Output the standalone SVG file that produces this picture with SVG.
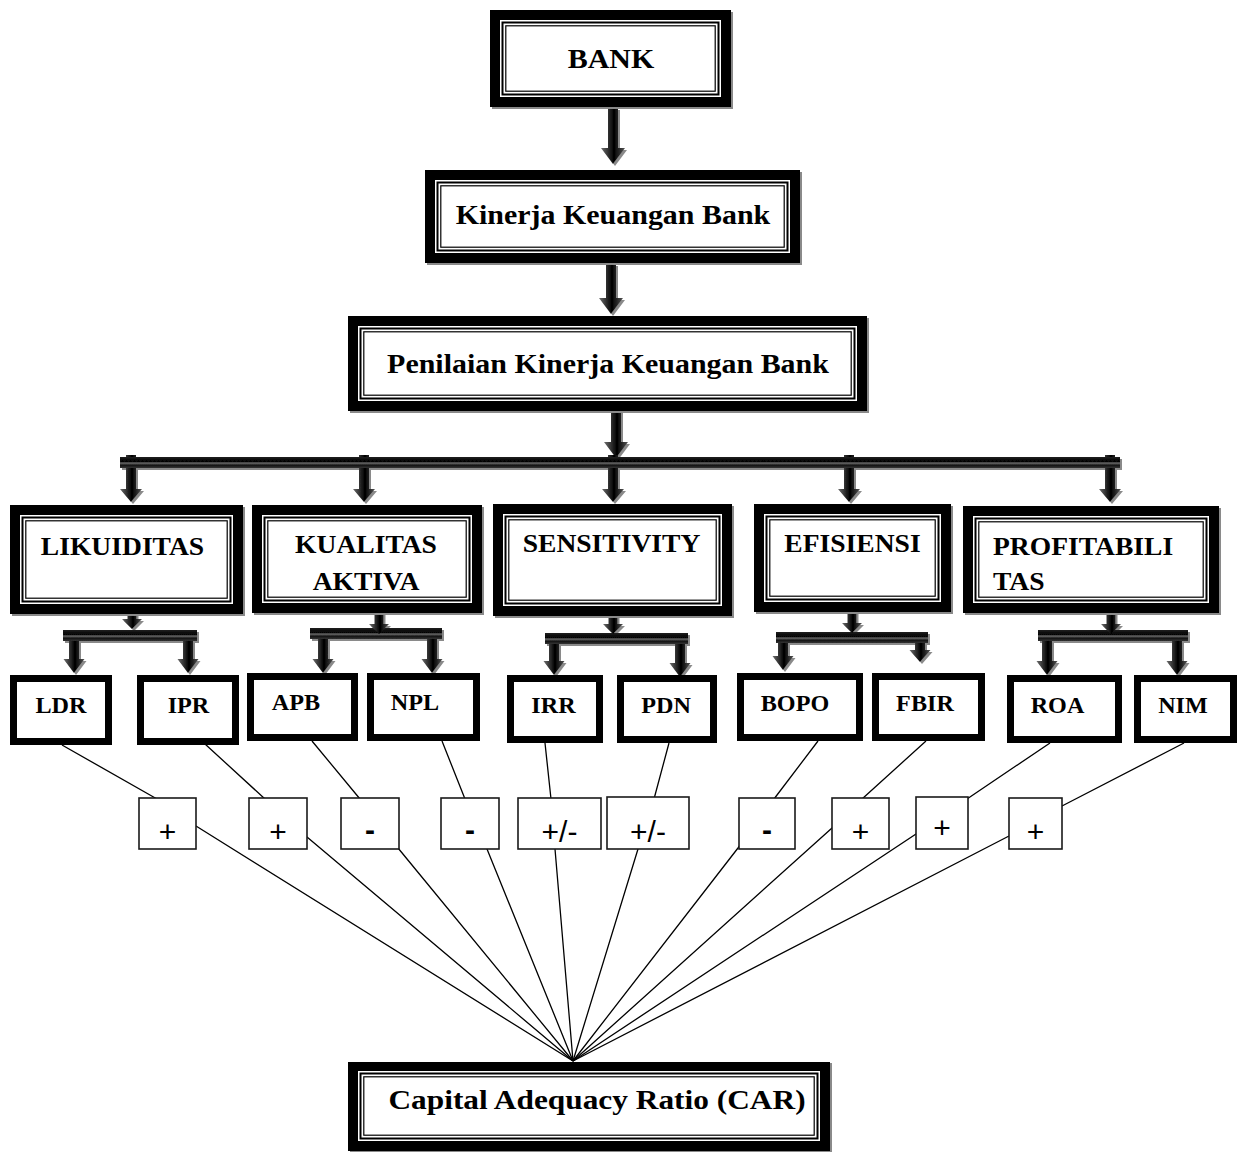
<svg xmlns="http://www.w3.org/2000/svg" width="1243" height="1152" viewBox="0 0 1243 1152">
<defs>
<linearGradient id="ag" x1="0" y1="0" x2="1" y2="0">
<stop offset="0" stop-color="#707070"/><stop offset="0.4" stop-color="#1c1c1c"/><stop offset="0.55" stop-color="#000"/><stop offset="1" stop-color="#555"/>
</linearGradient>
<linearGradient id="bg" x1="0" y1="0" x2="0" y2="1">
<stop offset="0" stop-color="#222"/><stop offset="0.4" stop-color="#000"/><stop offset="0.55" stop-color="#6a6a6a"/><stop offset="0.75" stop-color="#111"/><stop offset="1" stop-color="#333"/>
</linearGradient>
<filter id="sh" x="-5%" y="-5%" width="115%" height="130%">
<feDropShadow dx="2" dy="2" stdDeviation="0.4" flood-color="#8a8a8a" flood-opacity="1"/>
</filter>
</defs>
<style>
.frame{fill:#fff;stroke:#000;stroke-width:10}
.in1{fill:none;stroke:#000;stroke-width:2}
.in2{fill:none;stroke:#000;stroke-width:1.2}
.small{fill:#fff;stroke:#000;stroke-width:7}
.sign{fill:#fff;stroke:#1a1a1a;stroke-width:1.6}
.t{font-family:"Liberation Serif","Times New Roman",serif;font-weight:bold;fill:#000}
.big{font-size:28px;text-anchor:middle}
.cat{font-size:26px}
.mid{text-anchor:middle}
.sm{font-size:22.5px;text-anchor:middle}
.s{font-family:"Liberation Sans",Arial,sans-serif;fill:#000;font-size:30px;text-anchor:middle}
.link{stroke:#000;stroke-width:1.3;fill:none}
.arrow{fill:url(#ag)}
.bar{fill:url(#bg)}
</style>
<rect width="1243" height="1152" fill="#fff"/>

<g id="connectors">
  <g filter="url(#sh)">
    <path class="arrow" d="M608,108 H618 V148 H625 L613,164 L601,148 H608 Z"/>
    <path class="arrow" d="M606,264 H616 V298 H623 L611,314 L599,298 H606 Z"/>
    <path class="arrow" d="M611,411 H621 V442 H628 L616,458 L604,442 H611 Z"/>
    <path class="arrow" d="M126,455 H136 V489 H142 L131,502 L120,489 H126 Z"/>
    <path class="arrow" d="M359,455 H369 V489 H375 L364,502 L353,489 H359 Z"/>
    <path class="arrow" d="M608,455 H618 V489 H624 L613,502 L602,489 H608 Z"/>
    <path class="arrow" d="M844,455 H854 V489 H860 L849,502 L838,489 H844 Z"/>
    <path class="arrow" d="M1105,455 H1115 V489 H1121 L1110,502 L1099,489 H1105 Z"/>
    <rect class="bar" x="120" y="457" width="1000" height="11"/>

    <path class="arrow" d="M69,633 H79 V659 H84.5 L74,673 L63.5,659 H69 Z"/>
    <path class="arrow" d="M183,633 H193 V659 H198.5 L188,673 L177.5,659 H183 Z"/>
    <path class="arrow" d="M318,631 H328 V659 H333.5 L323,673 L312.5,659 H318 Z"/>
    <path class="arrow" d="M427,631 H437 V659 H442.5 L432,673 L421.5,659 H427 Z"/>
    <path class="arrow" d="M549,636 H559 V661 H564.5 L554,675 L543.5,661 H549 Z"/>
    <path class="arrow" d="M675,636 H685 V663 H690.5 L680,677 L669.5,663 H675 Z"/>
    <path class="arrow" d="M778,635 H788 V656 H793.5 L783,670 L772.5,656 H778 Z"/>
    <path class="arrow" d="M915,635 H925 V650 H930.5 L920,662 L909.5,650 H915 Z"/>
    <path class="arrow" d="M1042,633 H1052 V661 H1057.5 L1047,675 L1036.5,661 H1042 Z"/>
    <path class="arrow" d="M1172,633 H1182 V661 H1187.5 L1177,675 L1166.5,661 H1172 Z"/>

    <rect class="bar" x="63" y="630" width="134" height="11"/>
    <rect class="bar" x="310" y="628" width="132" height="11"/>
    <rect class="bar" x="545" y="633" width="143" height="11"/>
    <rect class="bar" x="776" y="632" width="152" height="11"/>
    <rect class="bar" x="1038" y="630" width="150" height="11"/>

    <path class="arrow" d="M127.5,612 H136.5 V619 H142 L132,629 L122,619 H127.5 Z"/>
    <path class="arrow" d="M374.5,612 H383.5 V624 H389 L379,634 L369,624 H374.5 Z"/>
    <path class="arrow" d="M608.5,614 H617.5 V624 H623 L613,634 L603,624 H608.5 Z"/>
    <path class="arrow" d="M847.5,610 H856.5 V623 H862 L852,633 L842,623 H847.5 Z"/>
    <path class="arrow" d="M1106.5,611 H1115.5 V624 H1121 L1111,634 L1101,624 H1106.5 Z"/>
  </g>

  <polyline class="link" points="62,745 157,799 196,826 573,1061"/>
  <polyline class="link" points="205,744 265,799 307,837 573,1061"/>
  <polyline class="link" points="312,741 360,799 398,848 573,1061"/>
  <polyline class="link" points="442,741 465,799 487,849 573,1061"/>
  <polyline class="link" points="545,743 551,799 555,849 573,1061"/>
  <polyline class="link" points="669,743 654,799 638,849 573,1061"/>
  <polyline class="link" points="818,741 774,799 738,848 573,1061"/>
  <polyline class="link" points="926,741 862,799 832,828 573,1061"/>
  <polyline class="link" points="1050,743 967,799 916,834 573,1061"/>
  <polyline class="link" points="1184,743 1062,806 1009,836 573,1061"/>
</g>

<g id="bank" filter="url(#sh)">
  <rect class="frame" x="495" y="15" width="231" height="87"/>
  <rect class="in1" x="502.5" y="22.5" width="216" height="72"/>
  <rect class="in2" x="505.8" y="25.8" width="209.4" height="65.4"/>
</g>
<text class="t big" transform="translate(611,68) scale(1.07,1)">BANK</text>

<g id="kinerja" filter="url(#sh)">
  <rect class="frame" x="430" y="175" width="365" height="83"/>
  <rect class="in1" x="437.5" y="182.5" width="350" height="68"/>
  <rect class="in2" x="440.8" y="185.8" width="343.4" height="61.4"/>
</g>
<text class="t big" transform="translate(613,224) scale(1.07,1)">Kinerja Keuangan Bank</text>

<g id="penilaian" filter="url(#sh)">
  <rect class="frame" x="353" y="321" width="509" height="85"/>
  <rect class="in1" x="360.5" y="328.5" width="494" height="70"/>
  <rect class="in2" x="363.8" y="331.8" width="487.4" height="63.4"/>
</g>
<text class="t big" transform="translate(608,373) scale(1.07,1)">Penilaian Kinerja Keuangan Bank</text>

<g id="likuiditas" filter="url(#sh)">
  <rect class="frame" x="15" y="510" width="223" height="99"/>
  <rect class="in1" x="22.5" y="517.5" width="208" height="84"/>
  <rect class="in2" x="25.8" y="520.8" width="201.4" height="77.4"/>
</g>
<text class="t cat mid" transform="translate(122.5,555) scale(1.06,1)">LIKUIDITAS</text>

<g id="kualitas" filter="url(#sh)">
  <rect class="frame" x="257" y="510" width="220" height="98"/>
  <rect class="in1" x="264.5" y="517.5" width="205" height="83"/>
  <rect class="in2" x="267.8" y="520.8" width="198.4" height="76.4"/>
</g>
<text class="t cat mid" transform="translate(366,553) scale(1.06,1)">KUALITAS</text>
<text class="t cat mid" transform="translate(366,590) scale(1.06,1)">AKTIVA</text>

<g id="sensitivity" filter="url(#sh)">
  <rect class="frame" x="498" y="509" width="229" height="102"/>
  <rect class="in1" x="505.5" y="516.5" width="214" height="87"/>
  <rect class="in2" x="508.8" y="519.8" width="207.4" height="80.4"/>
</g>
<text class="t cat mid" transform="translate(611.5,552) scale(1.06,1)">SENSITIVITY</text>

<g id="efisiensi" filter="url(#sh)">
  <rect class="frame" x="759" y="509" width="187" height="98"/>
  <rect class="in1" x="766.5" y="516.5" width="172" height="83"/>
  <rect class="in2" x="769.8" y="519.8" width="165.4" height="76.4"/>
</g>
<text class="t cat mid" transform="translate(852.5,552) scale(1.06,1)">EFISIENSI</text>

<g id="profitabilitas" filter="url(#sh)">
  <rect class="frame" x="968" y="511" width="246" height="97"/>
  <rect class="in1" x="975.5" y="518.5" width="231" height="82"/>
  <rect class="in2" x="978.8" y="521.8" width="224.4" height="75.4"/>
</g>
<text class="t cat" transform="translate(993,555) scale(1.06,1)">PROFITABILI</text>
<text class="t cat" transform="translate(993,590) scale(1.06,1)">TAS</text>

<g id="ldr"><rect class="small" x="13.5" y="678.5" width="95" height="63"/><text class="t sm" transform="translate(61,713) scale(1.075,1)">LDR</text></g>
<g id="ipr"><rect class="small" x="140.5" y="678.5" width="95" height="63"/><text class="t sm" transform="translate(188.5,713) scale(1.075,1)">IPR</text></g>
<g id="apb"><rect class="small" x="250.5" y="676.5" width="104" height="61"/><text class="t sm" transform="translate(296,710) scale(1.075,1)">APB</text></g>
<g id="npl"><rect class="small" x="370.5" y="676.5" width="106" height="61"/><text class="t sm" transform="translate(415,710) scale(1.075,1)">NPL</text></g>
<g id="irr"><rect class="small" x="510.5" y="678.5" width="89" height="61"/><text class="t sm" transform="translate(553.5,713) scale(1.075,1)">IRR</text></g>
<g id="pdn"><rect class="small" x="620.5" y="678.5" width="93" height="61"/><text class="t sm" transform="translate(666,713) scale(1.075,1)">PDN</text></g>
<g id="bopo"><rect class="small" x="740.5" y="676.5" width="119" height="61"/><text class="t sm" transform="translate(795,711) scale(1.075,1)">BOPO</text></g>
<g id="fbir"><rect class="small" x="875.5" y="676.5" width="106" height="61"/><text class="t sm" transform="translate(925,711) scale(1.075,1)">FBIR</text></g>
<g id="roa"><rect class="small" x="1010.5" y="678.5" width="108" height="61"/><text class="t sm" transform="translate(1057.5,713) scale(1.075,1)">ROA</text></g>
<g id="nim"><rect class="small" x="1137.5" y="678.5" width="96" height="61"/><text class="t sm" transform="translate(1183,713) scale(1.075,1)">NIM</text></g>

<g id="sign-ldr"><rect class="sign" x="139" y="798" width="57" height="51"/><text class="s" x="167.5" y="841.5">+</text></g>
<g id="sign-ipr"><rect class="sign" x="249" y="798" width="58" height="51"/><text class="s" x="278" y="841.5">+</text></g>
<g id="sign-apb"><rect class="sign" x="341" y="798" width="58" height="51"/><text class="s" x="370" y="840" font-weight="bold">-</text></g>
<g id="sign-npl"><rect class="sign" x="441" y="798" width="58" height="51"/><text class="s" x="470" y="840" font-weight="bold">-</text></g>
<g id="sign-irr"><rect class="sign" x="518" y="798" width="83" height="51"/><text class="s" x="559.5" y="841.5">+/-</text></g>
<g id="sign-pdn"><rect class="sign" x="607" y="797" width="82" height="52"/><text class="s" x="648" y="841.5">+/-</text></g>
<g id="sign-bopo"><rect class="sign" x="739" y="798" width="56" height="51"/><text class="s" x="767" y="840" font-weight="bold">-</text></g>
<g id="sign-fbir"><rect class="sign" x="832" y="798" width="57" height="51"/><text class="s" x="860.5" y="841.5">+</text></g>
<g id="sign-roa"><rect class="sign" x="916" y="797" width="52" height="52"/><text class="s" x="942" y="838" font-size="20">+</text></g>
<g id="sign-nim"><rect class="sign" x="1009" y="798" width="53" height="51"/><text class="s" x="1035.5" y="841.5">+</text></g>

<g id="car" filter="url(#sh)">
  <rect class="frame" x="353" y="1066" width="472" height="80"/>
  <rect class="in1" x="360.5" y="1073.5" width="457" height="65"/>
  <rect class="in2" x="363.8" y="1076.8" width="450.4" height="58.4"/>
</g>
<text class="t big" transform="translate(597,1109) scale(1.12,1)">Capital Adequacy Ratio (CAR)</text>
</svg>
